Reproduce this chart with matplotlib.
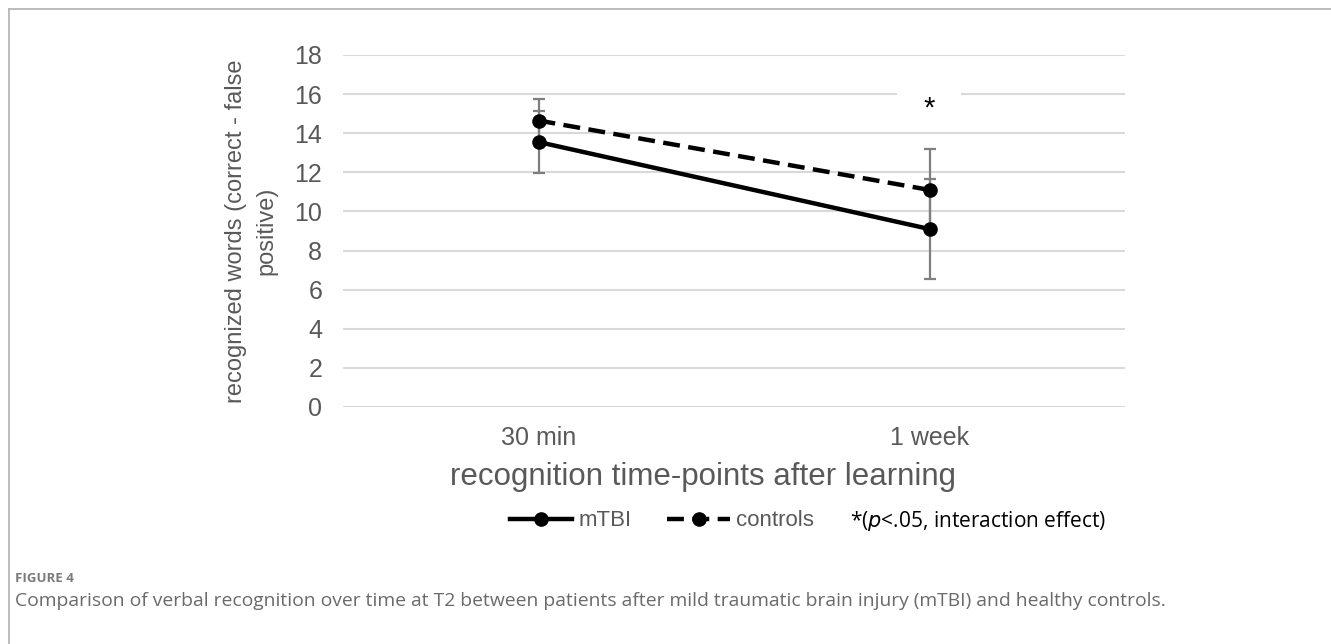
"""Verbal recognition over time: mTBI vs controls (Figure 4)."""
import numpy as np

import matplotlib
matplotlib.use("Agg")
import matplotlib.pyplot as plt  # noqa: E402
from matplotlib.lines import Line2D  # noqa: E402
from matplotlib.patches import Rectangle  # noqa: E402

categories = ["30 min", "1 week"]
mtbi_mean = [13.55, 9.1]
mtbi_err = [1.6, 2.56]
ctrl_mean = [14.65, 11.1]
ctrl_err = [1.1, 2.1]
yticks = [0, 2, 4, 6, 8, 10, 12, 14, 16, 18]
sig_label = "*"
sig_idx = 1
sig_y = 15.25

GRAY_TXT = "#595959"
GRID = "#d9d9d9"

fig = plt.figure(figsize=(13.31, 6.44), dpi=100)
plt.rcParams["font.family"] = ["Liberation Sans", "DejaVu Sans"]

# page frame (top and left rules)
fig.add_artist(Line2D([9 / 1331, 1.0], [1 - 9 / 644, 1 - 9 / 644],
                      color="#b0b0b0", lw=1.2))
fig.add_artist(Line2D([9 / 1331, 9 / 1331], [0.0, 1 - 9 / 644],
                      color="#b0b0b0", lw=1.2))

ax = fig.add_axes([343 / 1331, 1 - 407 / 644, 782 / 1331, 352 / 644])
x = np.arange(len(categories))

ax.errorbar(x, mtbi_mean, yerr=mtbi_err, fmt="none", ecolor="#7f7f7f",
            elinewidth=1.6, capsize=4.0, capthick=1.6, zorder=2)
ax.errorbar(x, ctrl_mean, yerr=ctrl_err, fmt="none", ecolor="#7f7f7f",
            elinewidth=1.6, capsize=4.0, capthick=1.6, zorder=2)
h_mtbi, = ax.plot(x, mtbi_mean, "-o", color="black", lw=3.2, ms=9.5,
                  zorder=4, label="mTBI")
h_ctrl, = ax.plot(x, ctrl_mean, "--o", color="black", lw=3.2, ms=9.5,
                  zorder=4, dashes=(3.8, 1.9), label="controls")

ax.set_xlim(-0.5, 1.5)
ax.set_ylim(0, 18)
ax.set_yticks(yticks)
ax.set_xticks(x)
ax.set_xticklabels(categories)
ax.yaxis.grid(True, color=GRID, lw=1.5, zorder=0)
ax.set_axisbelow(True)
for s in ax.spines.values():
    s.set_visible(False)
ax.tick_params(axis="both", length=0, labelsize=18, colors=GRAY_TXT)
ax.tick_params(axis="y", pad=15)
ax.tick_params(axis="x", pad=14)

ax.set_ylabel("recognized words (correct - false\npositive)", fontsize=17,
              color=GRAY_TXT, labelpad=12, linespacing=1.5)
ax.set_xlabel("recognition time-points after learning", fontsize=22.5,
              color=GRAY_TXT)
ax.xaxis.set_label_coords(0.46, -0.155)

# white label box that blanks the gridline behind the asterisk
ax.add_patch(Rectangle((sig_idx - 0.083, 15.0), 0.163, 1.8,
                       facecolor="white", edgecolor="none", zorder=1))
ax.text(sig_idx, sig_y, sig_label, ha="center", va="center", fontsize=21,
        color="black", zorder=5)

leg = fig.legend(handles=[h_mtbi, h_ctrl], loc="center",
                 bbox_to_anchor=(662 / 1331, 1 - 521 / 644), ncol=2,
                 frameon=False, fontsize=16, handlelength=2.8,
                 columnspacing=1.6, handletextpad=0.3)
for t in leg.get_texts():
    t.set_color(GRAY_TXT)

fig.text(850 / 1331, 1 - 521 / 644,
         r"*($\it{p}$<.05, interaction effect)", fontsize=15,
         family=["Open Sans", "DejaVu Sans"], color="black", va="center")

fig.text(15 / 1331, 1 - 578 / 644, "FIGURE 4", fontsize=9.5,
         weight="bold", color="#7a7a7a", va="center",
         family=["Open Sans", "DejaVu Sans"])
fig.text(15 / 1331, 1 - 601 / 644,
         "Comparison of verbal recognition over time at T2 between patients "
         "after mild traumatic brain injury (mTBI) and healthy controls.",
         fontsize=13.9, color="#6a6a6a", va="center",
         family=["Open Sans", "DejaVu Sans"])

fig.savefig("out.png", dpi=100, facecolor="white")
plt.close(fig)
